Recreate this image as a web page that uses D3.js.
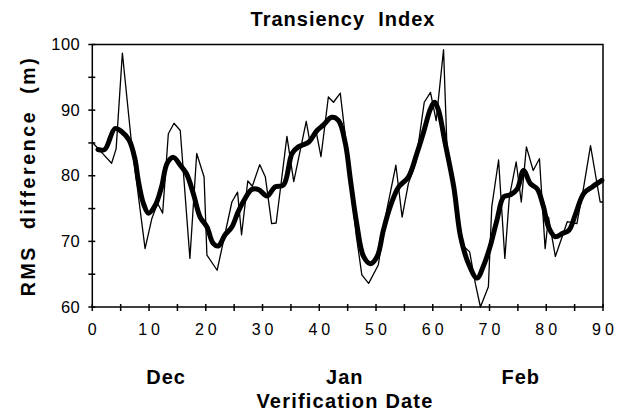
<!DOCTYPE html>
<html><head><meta charset="utf-8">
<script src="https://cdn.jsdelivr.net/npm/d3@7"></script>
<style>
body{margin:0;background:#fff;}
text{font-family:"Liberation Sans",Arial,sans-serif;fill:#000;}
</style></head><body>
<svg id="c" width="623" height="414"></svg>
<script>
// Daily RMS difference (thin line): day positions and values
const thinDays = [0,1.6,3.4,4.2,5.3,6.8,9.3,10.5,11.5,12.4,13.4,14.4,15.5,17.2,18.4,19.7,20.2,22.0,24.6,25.6,26.3,27.4,28.2,29.5,30.5,31.6,32.4,34.3,35.5,37.7,38.3,39.5,40.3,41.6,42.5,43.7,45.0,46.5,47.5,48.7,50.4,51.9,53.5,54.6,55.7,57.0,58.5,59.6,60.6,61.9,62.5,64.9,66.5,67.5,68.4,69.8,70.4,71.6,72.7,73.5,74.7,75.6,76.5,77.7,78.8,79.8,80.4,81.6,82.8,83.7,85.4,86.6,87.8,89.5,90];
const thinValues = [85.1,83.6,81.9,84.1,98.7,85.9,68.9,73.5,75.8,74.3,86.4,88.0,86.9,67.4,83.4,79.8,67.9,65.6,76.0,77.5,71.0,79.2,78.4,81.7,79.8,72.7,72.8,86.0,79.1,88.3,85.4,86.5,82.9,92.0,91.2,92.6,83.0,71.0,64.9,63.6,66.4,74.8,81.6,73.7,78.8,82.0,91.2,92.7,88.4,99.2,84.4,69.7,68.4,63.6,60.0,63.1,75.3,82.4,67.4,76.8,82.1,76.0,84.4,80.8,82.6,68.9,73.7,67.7,70.7,73.0,72.7,78.3,84.6,76.0,76.0];
// Smoothed index (thick line)
const smoothDays = [1.0,2.2,4.0,5.2,6.5,7.5,8.1,9.0,9.9,11.1,12.2,13.2,14.3,15.5,16.6,17.8,19.0,20.2,21.3,22.2,23.4,24.6,25.7,26.9,28.1,29.3,30.8,32.2,33.7,35.2,36.3,38.1,39.6,40.7,42.2,43.4,44.6,45.5,46.6,47.8,49.0,50.2,51.3,52.5,54.0,55.7,57.2,58.4,59.6,60.3,61.0,62.2,63.7,64.9,66.3,67.8,69.0,70.1,71.3,72.5,73.7,74.9,76.0,77.2,78.4,79.5,80.4,81.6,82.8,84.0,85.1,86.6,88.1,89.8];
const smoothValues = [84.0,84.0,87.2,86.7,85.4,82.6,79.3,75.8,74.3,75.5,78.3,81.9,82.8,81.6,80.3,77.3,73.7,72.2,69.7,69.3,71.0,72.2,74.5,76.5,77.9,77.9,76.9,78.3,78.6,83.4,84.4,85.1,86.9,87.7,88.9,88.4,84.9,79.3,72.7,67.7,66.6,67.7,71.7,75.3,78.3,79.8,83.4,86.7,90.2,91.2,90.0,84.9,78.3,70.7,66.6,64.4,66.4,69.2,73.2,76.8,77.1,78.0,80.8,78.8,78.0,75.3,72.2,70.7,71.2,71.7,74.0,77.3,78.3,79.3];
const xTicks = [0,10,20,30,40,50,60,70,80,90];
const yTicks = [60,70,80,90,100];
const months = [{label:"Dec",day:13},{label:"Jan",day:44.5},{label:"Feb",day:75.5}];

const svg = d3.select("#c");
const L=92.3,R=603,T=44.5,B=307;
const x = d3.scaleLinear().domain([0,90]).range([L,R]);
const y = d3.scaleLinear().domain([60,100]).range([B,T]);

// frame
svg.append("rect").attr("x",L).attr("y",T).attr("width",R-L).attr("height",B-T)
  .attr("fill","none").attr("stroke","#000").attr("stroke-width",1.5);

// ticks
const minorX = d3.range(0,91,5), minorY = d3.range(60,101,5);
svg.append("g").selectAll("line").data(minorX).join("line")
  .attr("x1",d=>x(d)).attr("x2",d=>x(d)).attr("y1",B-3).attr("y2",B+4)
  .attr("stroke","#000").attr("stroke-width",1.5);
svg.append("g").selectAll("line").data(minorY).join("line")
  .attr("y1",d=>y(d)).attr("y2",d=>y(d)).attr("x1",L-4).attr("x2",L+3)
  .attr("stroke","#000").attr("stroke-width",1.5);

// tick labels
svg.append("g").selectAll("text").data(xTicks).join("text")
  .attr("x",d=>x(d)+2).attr("y",B+28).attr("text-anchor","middle")
  .attr("font-size",16).attr("letter-spacing",4).text(d=>d);
svg.append("g").selectAll("text").data(yTicks).join("text")
  .attr("x",L-12).attr("y",d=>y(d)+5.5).attr("text-anchor","end")
  .attr("font-size",16.5).attr("letter-spacing",0.5).text(d=>d);

// lines
const thin = d3.line().x((d,i)=>x(thinDays[i])).y(d=>y(d));
svg.append("path").attr("d",thin(thinValues)).attr("fill","none")
  .attr("stroke","#000").attr("stroke-width",1.3).attr("stroke-linejoin","round");
const thick = d3.line().x((d,i)=>x(smoothDays[i])).y(d=>y(d)).curve(d3.curveCatmullRom);
svg.append("path").attr("d",thick(smoothValues)).attr("fill","none")
  .attr("stroke","#000").attr("stroke-width",5).attr("stroke-linejoin","round").attr("stroke-linecap","round");

// titles
svg.append("text").attr("x",343).attr("y",26).attr("text-anchor","middle")
  .attr("font-size",20).attr("font-weight","bold").attr("letter-spacing",1).attr("xml:space","preserve")
  .text("Transiency  Index");
svg.append("text").attr("transform","translate(35,176) rotate(-90)").attr("text-anchor","middle")
  .attr("font-size",19.5).attr("font-weight","bold").attr("letter-spacing",2.6).attr("xml:space","preserve")
  .text("RMS  difference  (m)");
svg.selectAll(".m").data(months).join("text").attr("class","m")
  .attr("x",d=>x(d.day)).attr("y",384).attr("text-anchor","middle")
  .attr("font-size",20).attr("font-weight","bold").attr("letter-spacing",1).text(d=>d.label);
svg.append("text").attr("x",345).attr("y",408).attr("text-anchor","middle")
  .attr("font-size",20).attr("font-weight","bold").attr("letter-spacing",1.2).text("Verification Date");
</script></body></html>
